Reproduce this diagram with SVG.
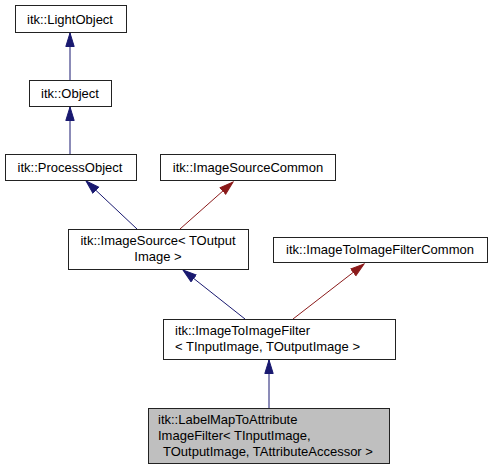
<svg xmlns="http://www.w3.org/2000/svg" width="492" height="469" viewBox="0 0 492 469">
<style>
.box{fill:#fff;stroke:#222;stroke-width:1}
.hl{fill:#bfbfbf;stroke:#222;stroke-width:1}
text{font-family:"Liberation Sans",Arial,sans-serif;font-size:13px;fill:#000}
.c{text-anchor:middle}
.blue{stroke:#191970;stroke-width:1;fill:none}
.red{stroke:#8b1a1a;stroke-width:1;fill:none}
</style>
<defs>
<marker id="ab" markerUnits="userSpaceOnUse" markerWidth="15" markerHeight="11" refX="14" refY="5" orient="auto"><path d="M0.5,0.8 L14,5 L0.5,9.2 Z" fill="#191970" stroke="#191970"/></marker>
<marker id="ar" markerUnits="userSpaceOnUse" markerWidth="15" markerHeight="11" refX="14" refY="5" orient="auto"><path d="M0.5,0.8 L14,5 L0.5,9.2 Z" fill="#8b1a1a" stroke="#8b1a1a"/></marker>
</defs>
<g id="edges">
<line class="blue" x1="70" y1="80" x2="70" y2="33" marker-end="url(#ab)"/>
<line class="blue" x1="70" y1="154" x2="70" y2="107" marker-end="url(#ab)"/>
<line class="blue" x1="137" y1="229" x2="86" y2="181" marker-end="url(#ab)"/>
<line class="red" x1="180" y1="229" x2="233" y2="182" marker-end="url(#ar)"/>
<line class="blue" x1="245" y1="319" x2="183" y2="270" marker-end="url(#ab)"/>
<line class="red" x1="293" y1="319" x2="364" y2="264" marker-end="url(#ar)"/>
<line class="blue" x1="269" y1="408" x2="269" y2="360" marker-end="url(#ab)"/>
</g>
<g id="LightObject"><rect class="box" x="15.5" y="5.5" width="111" height="27"/><text class="c" x="70" y="23.5">itk::LightObject</text></g>
<g id="Object"><rect class="box" x="29.5" y="80.5" width="82" height="26"/><text class="c" x="70" y="98">itk::Object</text></g>
<g id="ProcessObject"><rect class="box" x="5.5" y="154.5" width="131" height="26"/><text class="c" x="70" y="172">itk::ProcessObject</text></g>
<g id="ImageSourceCommon"><rect class="box" x="160.5" y="154.5" width="175" height="26"/><text class="c" x="248" y="172">itk::ImageSourceCommon</text></g>
<g id="ImageSource"><rect class="box" x="68.5" y="229.5" width="180" height="40"/><text class="c" x="158" y="245">itk::ImageSource&lt; TOutput</text><text class="c" x="158" y="261">Image &gt;</text></g>
<g id="ImageToImageFilterCommon"><rect class="box" x="273.5" y="237.5" width="214" height="25"/><text class="c" x="380" y="254">itk::ImageToImageFilterCommon</text></g>
<g id="ImageToImageFilter"><rect class="box" x="163.5" y="319.5" width="232" height="40"/><text x="175" y="335">itk::ImageToImageFilter</text><text x="175" y="351">&lt; TInputImage, TOutputImage &gt;</text></g>
<g id="LabelMapToAttributeImageFilter"><rect class="hl" x="148.5" y="408.5" width="241" height="55"/><text x="158" y="424">itk::LabelMapToAttribute</text><text x="158" y="440">ImageFilter&lt; TInputImage,</text><text x="163" y="456">TOutputImage, TAttributeAccessor &gt;</text></g>
</svg>
